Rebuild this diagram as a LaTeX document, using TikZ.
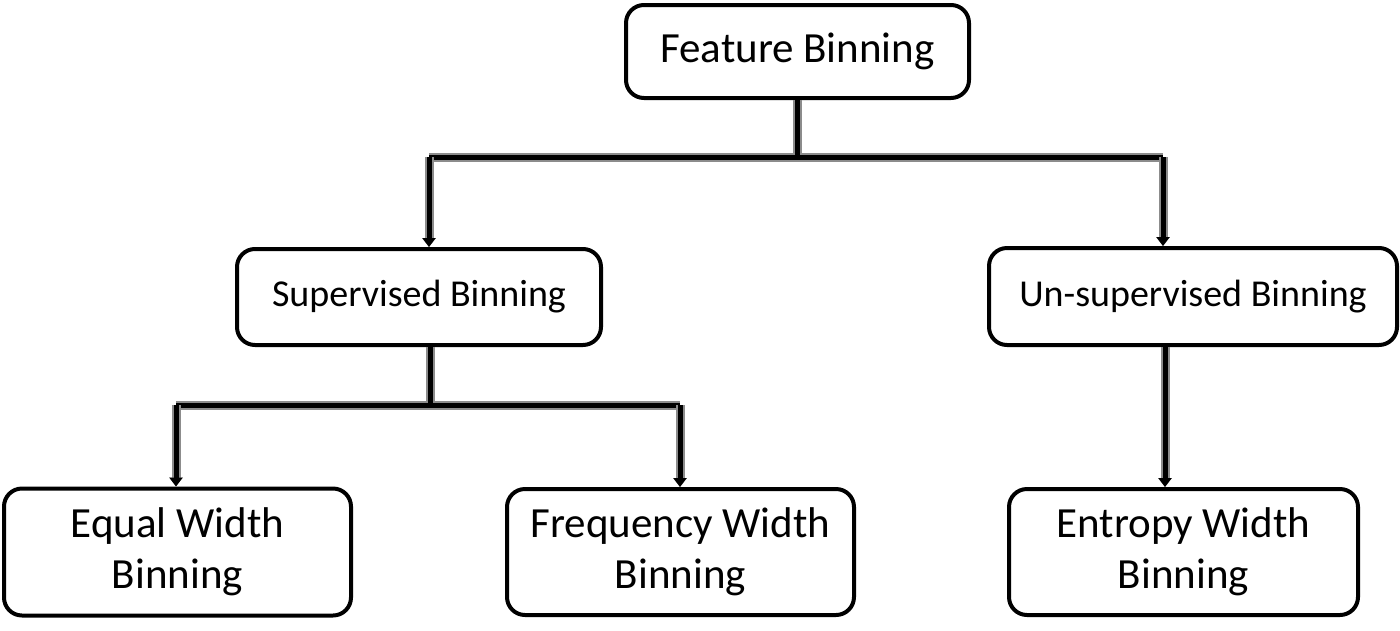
\documentclass[tikz,border=0pt]{standalone}
\usepackage{fontspec}
\setmainfont{Carlito}
\usetikzlibrary{arrows.meta}
\tikzset{
  box/.style={draw=black, line width=4pt, rounded corners=18pt, fill=white, align=center, inner sep=0pt},
  halo/.style={draw=black!45, line width=9pt},
  core/.style={draw=black, line width=5pt},
  tip/.style={-{Triangle[width=13pt,length=9pt]}},
  bigtext/.style={font=\fontsize{43}{51}\selectfont},
  midtext/.style={font=\fontsize{38}{45}\selectfont}
}
\begin{document}
\begin{tikzpicture}[x=1pt,y=-1pt]
\useasboundingbox (0,0) rectangle (1400,630);
\node[box, bigtext, minimum width=343pt, minimum height=93pt] (fb) at (797.5,51.5) {Feature Binning};
\node[box, midtext, minimum width=364pt, minimum height=96pt] (sb) at (419,297) {Supervised Binning};
\node[box, midtext, minimum width=408pt, minimum height=97pt] (ub) at (1193,296.5) {Un-supervised Binning};
\node[box, bigtext, minimum width=347pt, minimum height=127pt] (ew) at (177.5,552) {Equal Width\\Binning};
\node[box, bigtext, minimum width=347pt, minimum height=126pt] (fw) at (680.5,552) {Frequency Width\\Binning};
\node[box, bigtext, minimum width=349pt, minimum height=126pt] (enw) at (1183.5,552) {Entropy Width\\Binning};
\coordinate (j1) at (797.5,157);
\coordinate (a1) at (429,157);
\coordinate (a2) at (1163,157);
\coordinate (j2) at (430,405);
\coordinate (b1) at (176,405);
\coordinate (b2) at (680,405);
\coordinate (c1) at (1165,347);
\foreach \s in {halo,core}{
  \draw[\s] (fb.south) -- (j1);
  \draw[\s] (a1) -- (a2);
  \draw[\s] (sb.south -| j2) -- (j2);
  \draw[\s] (b1) -- (b2);
}
\draw[halo,tip] (a1) -- (a1 |- sb.north);
\draw[core,tip] (a1) -- (a1 |- sb.north);
\draw[halo,tip] (a2) -- (a2 |- ub.north);
\draw[core,tip] (a2) -- (a2 |- ub.north);
\draw[halo,tip] (b1) -- (b1 |- ew.north);
\draw[core,tip] (b1) -- (b1 |- ew.north);
\draw[halo,tip] (b2) -- (b2 |- fw.north);
\draw[core,tip] (b2) -- (b2 |- fw.north);
\draw[halo,tip] (c1 |- ub.south) -- (c1 |- enw.north);
\draw[core,tip] (c1 |- ub.south) -- (c1 |- enw.north);
\end{tikzpicture}
\end{document}
